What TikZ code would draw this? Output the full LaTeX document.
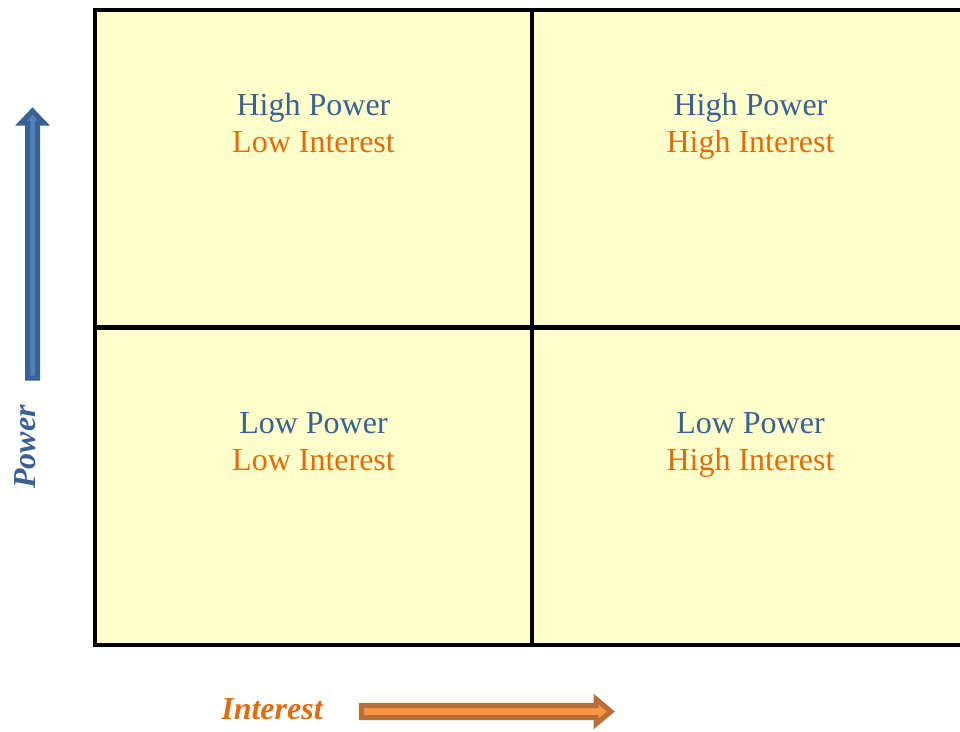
\documentclass[tikz,border=0pt]{standalone}
\usepackage{fontspec}
\setmainfont{Liberation Serif}
\definecolor{cellfill}{HTML}{FFFFCC}
\definecolor{powblue}{HTML}{3A6094}
\definecolor{powlight}{HTML}{4F81BD}
\definecolor{intorange}{HTML}{E36C0A}
\definecolor{intdark}{HTML}{B86E34}
\definecolor{intlight}{HTML}{F79646}
\tikzset{
  cell/.style={draw=black, line width=4pt, fill=cellfill, minimum width=437pt,
    minimum height=317pt, inner sep=0pt, outer sep=0pt},
  quad/.style={anchor=base, font=\fontsize{32}{37}\selectfont, inner sep=0pt},
  axis/.style={font=\fontsize{32}{36}\selectfont\bfseries\itshape, inner sep=0pt}
}
\begin{document}
\begin{tikzpicture}[x=1pt, y=-1pt]
  \useasboundingbox (0,0) rectangle (960,731);
  \clip (0,0) rectangle (960,731);
  % grid of four cells
  \node[cell] (hplo) at (313.5,168.5) {};
  \node[cell] (hphi) at (750.5,168.5) {};
  \node[cell] (lplo) at (313.5,486.5) {};
  \node[cell] (lphi) at (750.5,486.5) {};
  % cell texts
  \node[quad, text=powblue] (p1) at (313.5,115) {High Power};
  \node[quad, text=intorange] (i1) at (313.5,152) {Low Interest};
  \node[quad, text=powblue] (p2) at (750.5,115) {High Power};
  \node[quad, text=intorange] (i2) at (750.5,152) {High Interest};
  \node[quad, text=powblue] (p3) at (313.5,433) {Low Power};
  \node[quad, text=intorange] (i3) at (313.5,470) {Low Interest};
  \node[quad, text=powblue] (p4) at (750.5,433) {Low Power};
  \node[quad, text=intorange] (i4) at (750.5,470) {High Interest};
  % power axis
  \filldraw[draw=powblue, fill=powlight, line width=5pt, line join=miter]
    (27.5,378) -- (27.5,123) -- (21,123) -- (32.5,111) -- (44,123) -- (37.5,123) -- (37.5,378) -- cycle;
  \node[axis, text=powblue, rotate=90] (power) at (25,447) {Power};
  % interest axis
  \filldraw[draw=intdark, fill=intlight, line width=5pt, line join=miter]
    (361.5,705.5) -- (596,705.5) -- (596,699) -- (611,711.5) -- (596,724) -- (596,717.5) -- (361.5,717.5) -- cycle;
  \node[axis, text=intorange] (interest) at (272,709) {Interest};
\end{tikzpicture}
\end{document}
